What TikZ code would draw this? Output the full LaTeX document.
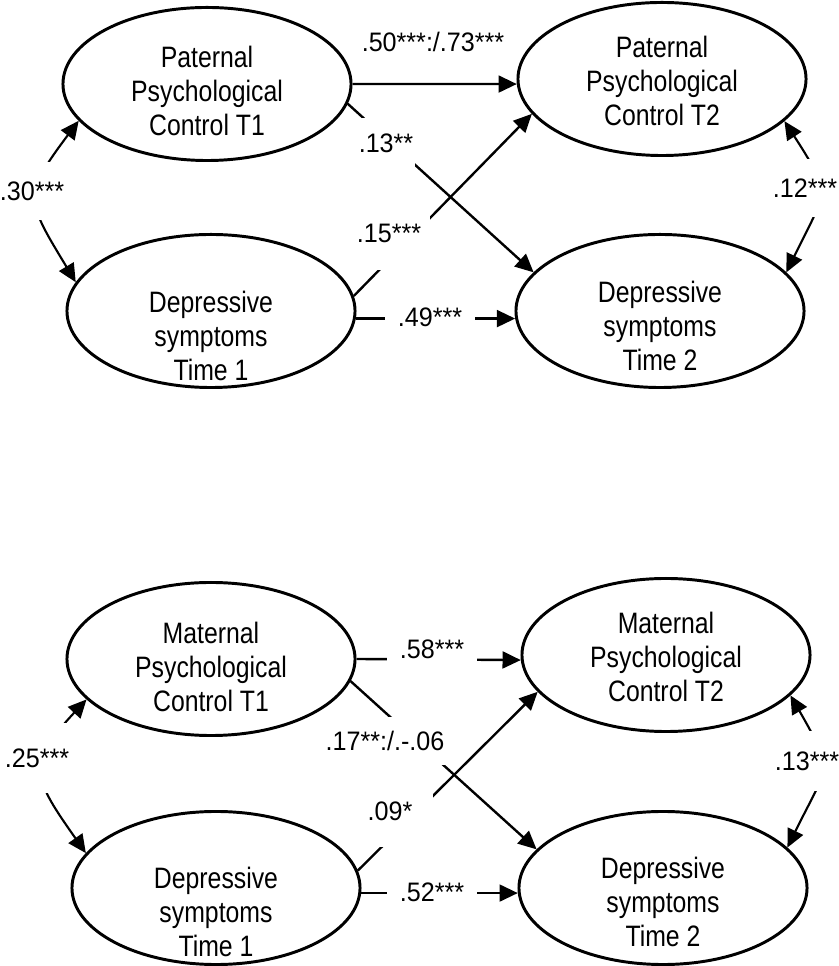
\documentclass[tikz,border=0pt]{standalone}
\usepackage{fontspec}
\setmainfont{Liberation Sans}
\newfontfamily\elfont{Liberation Sans}[FakeStretch=0.84]
\newfontfamily\cofont{Liberation Sans}[FakeStretch=0.94]
\usepackage{tikz}
\usetikzlibrary{shapes,shapes.geometric,arrows.meta}

\begin{document}
\begin{tikzpicture}[x=0.025cm,y=0.025cm]
	\tikzstyle{every node}=[font=\cofont\fontsize{19}{22}\selectfont]
	\tikzstyle{latent}=[ellipse,draw,line width=2.1pt,minimum width=7.2cm,minimum height=3.825cm,inner sep=0pt]
	\tikzstyle{txt}=[align=center,inner sep=0pt,font=\elfont\fontsize{21}{24.3}\selectfont]
	\tikzstyle{coef}=[fill=white,inner sep=1pt]
	\tikzstyle{eff}=[line width=1.7pt,-{Triangle[length=13pt,width=12pt]}]
	\tikzstyle{cov}=[line width=1.5pt,{Triangle[length=13pt,width=12pt]}-{Triangle[length=13pt,width=12pt]},looseness=1.5]
	\useasboundingbox (0,0) rectangle (838,966);
	\node[latent,label={[txt,yshift=-0.175cm]center:Paternal\\Psychological\\Control T1}] (pat1) at (207,882) {};
	\node[latent,label={[txt,yshift=-0.625cm]center:Depressive\\symptoms\\Time 1}] (dep1) at (211,655) {};
	\node[latent,label={[txt,yshift=-0.05cm]center:Paternal\\Psychological\\Control T2}] (pat2) at (662,887) {};
	\node[latent,label={[txt,yshift=-0.375cm]center:Depressive\\symptoms\\Time 2}] (dep2) at (660,655) {};
	\node[latent,label={[txt,yshift=-0.2cm]center:Maternal\\Psychological\\Control T1}] (mat1) at (211,307) {};
	\node[latent,label={[txt,yshift=-0.6cm]center:Depressive\\symptoms\\Time 1}] (mdep1) at (216,78) {};
	\node[latent,label={[txt,yshift=-0.05cm]center:Maternal\\Psychological\\Control T2}] (mat2) at (666,311) {};
	\node[latent,label={[txt,yshift=-0.35cm]center:Depressive\\symptoms\\Time 2}] (mdep2) at (663,78) {};
	\draw[eff] (pat1.east) -- (pat2.182);
	\draw[eff] (pat1.-8) -- (dep2.163);
	\draw[eff] (dep1.6) -- (pat2.195);
	\draw[eff] (dep1.-3) -- (dep2.183);
	\draw[cov] (pat1.196) to[out=233,in=121] (dep1.168);
	\draw[cov] (pat2.-19) to[out=-57,in=64] (dep2.17);
	\draw[eff] (mat1.east) -- (mat2.182);
	\draw[eff] (mat1.-9) -- (mdep2.163);
	\draw[eff] (mdep1.7) -- (mat2.196);
	\draw[eff] (mdep1.-2) -- (mdep2.182);
	\draw[cov] (mat1.198) to[out=227,in=125] (mdep1.165);
	\draw[cov] (mat2.-18) to[out=-60,in=64] (mdep2.18);
	\node[coef] (c50) at (433,924) {.50***:/.73***};
	\node[coef,minimum width=1.4cm,minimum height=1.25cm] (c13) at (386,823) {.13**};
	\node[coef,minimum width=2.05cm,minimum height=1.85cm] (c15) at (389,733) {.15***};
	\node[coef,minimum width=2.25cm,minimum height=0.7cm] (c49) at (430,649) {.49***};
	\node[coef,minimum width=1.6cm,minimum height=1.45cm] (c30) at (32,775) {.30***};
	\node[coef,minimum width=1.5cm,minimum height=1.45cm] (c12) at (805,778) {.12***};
	\node[coef,minimum width=2.25cm,minimum height=0.75cm] (c58) at (432,317) {.58***};
	\node[coef,minimum height=1.2cm] (c17) at (385,225) {.17**:/.-.06};
	\node[coef,minimum width=2.15cm,minimum height=1.8cm] (c09) at (390,155) {.09*};
	\node[coef,minimum width=2.25cm,minimum height=0.7cm] (c52) at (432,74) {.52***};
	\node[coef,minimum width=1.6cm,minimum height=1.75cm] (c25) at (37,208) {.25***};
	\node[coef,minimum width=1.5cm,minimum height=1.5cm] (c13m) at (807,205) {.13***};
\end{tikzpicture}
\end{document}
